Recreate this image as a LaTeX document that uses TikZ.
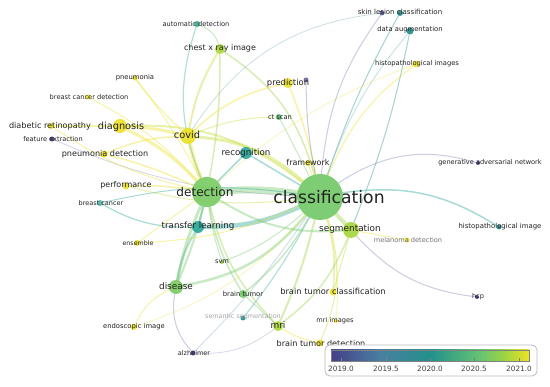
\documentclass[tikz,border=0pt]{standalone}
\usepackage{fontspec}
\setmainfont{DejaVu Sans}
\newcommand\lfs[1]{\fontsize{#1}{#1}\selectfont}
\pgfdeclarelayer{paper}
\pgfdeclarelayer{edges}
\pgfsetlayers{paper,edges,main}
% node colours
\definecolor{cYel}{HTML}{EDE127}
\definecolor{cYG}{HTML}{C6DC30}
\definecolor{cLG}{HTML}{9CD443}
\definecolor{cGrn}{HTML}{74C96A}
\definecolor{cTea}{HTML}{2AA69A}
\definecolor{cDTl}{HTML}{22908C}
\definecolor{cBlu}{HTML}{4A7FA0}
\definecolor{cPur}{HTML}{45408A}
\definecolor{cLPur}{HTML}{7F82B5}
\definecolor{txt}{HTML}{222222}
\definecolor{frame}{HTML}{BBBBBB}
% viridis-like legend shading (path box maps to 25bp..75bp)
\pgfdeclarehorizontalshading{vir}{100bp}{color(0bp)=(cPur); color(25bp)=(cPur);
  color(37.5bp)=(cBlu); color(50bp)=(cDTl); color(62.5bp)=(cGrn!80!cTea);
  color(68.75bp)=(cLG); color(75bp)=(cYel!90!yellow); color(100bp)=(cYel!90!yellow)}
\tikzset{
  dot/.style={circle, inner sep=0pt, draw=none, fill opacity=0.92},
  lab/.style={inner sep=0pt, text=txt, anchor=center},
  edge/.style={draw opacity=0.4, line cap=round},
}
\begin{document}
\begin{tikzpicture}[x=1pt, y=-1pt]
\useasboundingbox (0,0) rectangle (550,387);
\begin{pgfonlayer}{paper}
\fill[white] (0,0) rectangle (550,387);
\end{pgfonlayer}
% ---------- nodes (circles) ----------
\node[dot, minimum size=46pt, fill=cGrn] (classification) at (320,197) {};
\node[dot, minimum size=30pt, fill=cGrn!85!cLG] (detection) at (207,192) {};
\node[dot, minimum size=16pt, fill=cLG!70!cYG] (segmentation) at (351,230) {};
\node[dot, minimum size=16pt, fill=cYel] (covid) at (188,136) {};
\node[dot, minimum size=14pt, fill=cYel] (diagnosis) at (120,126) {};
\node[dot, minimum size=14pt, fill=cGrn!80!cLG] (disease) at (176,287) {};
\node[dot, minimum size=12pt, fill=cTea] (transfer) at (198,227) {};
\node[dot, minimum size=12pt, fill=cTea] (recognition) at (246,153) {};
\node[dot, minimum size=10pt, fill=cLG!60!cYG] (mri) at (278,326) {};
\node[dot, minimum size=10pt, fill=cLG!60!cYG] (chest) at (220,49) {};
\node[dot, minimum size=10pt, fill=cYel] (prediction) at (288,83) {};
\node[dot, minimum size=5pt, fill=cPur!80!white] (predpur) at (306,80) {};
\node[dot, minimum size=8pt, fill=cGrn] (braintumor) at (243,294) {};
\node[dot, minimum size=6pt, fill=cGrn!70!cTea] (ctscan) at (279,117) {};
\node[dot, minimum size=6pt, fill=cTea!80!cGrn] (autodet) at (197,24) {};
\node[dot, minimum size=5pt, fill=cPur!85!white] (skinpur) at (382,13) {};
\node[dot, minimum size=6pt, fill=cDTl] (skin) at (400,13) {};
\node[dot, minimum size=7pt, fill=cDTl] (dataaug) at (410,31) {};
\node[dot, minimum size=7pt, fill=cYel] (histoimgs) at (416,64) {};
\node[dot, minimum size=6pt, fill=cYel] (framework) at (308,163) {};
\node[dot, minimum size=4pt, fill=cPur] (gan) at (478,163) {};
\node[dot, minimum size=5pt, fill=cDTl] (histoimg) at (499,227) {};
\node[dot, minimum size=5pt, fill=cYel] (melanoma) at (407,240) {};
\node[dot, minimum size=4pt, fill=cPur] (hcp) at (477,297) {};
\node[dot, minimum size=7pt, fill=cYel] (btclass) at (333,292) {};
\node[dot, minimum size=4pt, fill=cYel] (mriimages) at (336,321) {};
\node[dot, minimum size=7pt, fill=cYel] (btdet) at (320,343) {};
\node[dot, minimum size=5pt, fill=cDTl] (semseg) at (243,318) {};
\node[dot, minimum size=6pt, fill=cYel] (endo) at (134,327) {};
\node[dot, minimum size=5pt, fill=cPur] (alz) at (193,353) {};
\node[dot, minimum size=4pt, fill=cLG] (svm) at (222,262) {};
\node[dot, minimum size=6pt, fill=cYel] (ensemble) at (137,243) {};
\node[dot, minimum size=6pt, fill=cTea!80!white] (breastcancer) at (100,203) {};
\node[dot, minimum size=7pt, fill=cYel!90!cYG] (performance) at (126,186) {};
\node[dot, minimum size=7pt, fill=cYel] (pneudet) at (104,154) {};
\node[dot, minimum size=5pt, fill=cPur] (featext) at (52,139) {};
\node[dot, minimum size=6pt, fill=cYel] (diabetic) at (51,126) {};
\node[dot, minimum size=5pt, fill=cYel] (bcdet) at (88,97) {};
\node[dot, minimum size=5pt, fill=cYel!90!cYG] (pneumonia) at (135,78) {};
% ---------- labels ----------
\node[lab, font=\lfs{17.2}] (t-classification) at (329,197) {classification};
\node[lab, font=\lfs{12.1}] (t-detection) at (205,192) {detection};
\node[lab, font=\lfs{8.9}] (t-segmentation) at (350,229) {segmentation};
\node[lab, font=\lfs{9.8}] (t-covid) at (187,135) {covid};
\node[lab, font=\lfs{9.8}] (t-diagnosis) at (121,127) {diagnosis};
\node[lab, font=\lfs{8.9}] (t-disease) at (176,286) {disease};
\node[lab, font=\lfs{8.7}] (t-transfer) at (198,226) {transfer learning};
\node[lab, font=\lfs{8.7}] (t-recognition) at (246,153) {recognition};
\node[lab, font=\lfs{9}] (t-mri) at (278,325) {mri};
\node[lab, font=\lfs{8}] (t-chest) at (220,48) {chest x ray image};
\node[lab, font=\lfs{8.4}] (t-prediction) at (288,83) {prediction};
\node[lab, font=\lfs{6.8}] (t-braintumor) at (243,294) {brain tumor};
\node[lab, font=\lfs{6.7}] (t-ctscan) at (280,117) {ct scan};
\node[lab, font=\lfs{6.6}] (t-autodet) at (196,24) {automatic detection};
\node[lab, font=\lfs{7}] (t-skin) at (400,12) {skin lesion classification};
\node[lab, font=\lfs{6.8}] (t-dataaug) at (410,30) {data augmentation};
\node[lab, font=\lfs{6.7}] (t-histoimgs) at (417,64) {histopathological images};
\node[lab, font=\lfs{8}] (t-framework) at (308,163) {framework};
\node[lab, font=\lfs{6.6}] (t-gan) at (490,163) {generative adversarial network};
\node[lab, font=\lfs{6.9}] (t-histoimg) at (500,227) {histopathological image};
\node[lab, font=\lfs{6.6}, text=black!55] (t-melanoma) at (408,240) {melanoma detection};
\node[lab, font=\lfs{6.6}] (t-hcp) at (478,297) {hcp};
\node[lab, font=\lfs{8.3}] (t-btclass) at (333,291) {brain tumor classification};
\node[lab, font=\lfs{6.6}] (t-mriimages) at (335,321) {mri images};
\node[lab, font=\lfs{8.1}] (t-btdet) at (321,343) {brain tumor detection};
\node[lab, font=\lfs{6.4}, text=black!35] (t-semseg) at (243,317) {semantic segmentation};
\node[lab, font=\lfs{6.8}] (t-endo) at (134,327) {endoscopic image};
\node[lab, font=\lfs{6.5}] (t-alz) at (194,353) {alzheimer};
\node[lab, font=\lfs{6.7}] (t-svm) at (222,262) {svm};
\node[lab, font=\lfs{6.3}] (t-ensemble) at (138,243) {ensemble};
\node[lab, font=\lfs{6.5}] (t-breastcancer) at (101,203) {breast cancer};
\node[lab, font=\lfs{8}] (t-performance) at (126,185) {performance};
\node[lab, font=\lfs{8.1}] (t-pneudet) at (105,154) {pneumonia detection};
\node[lab, font=\lfs{6.6}] (t-featext) at (53,139) {feature extraction};
\node[lab, font=\lfs{8.1}] (t-diabetic) at (50,126) {diabetic retinopathy};
\node[lab, font=\lfs{6.6}] (t-bcdet) at (89,97) {breast cancer detection};
\node[lab, font=\lfs{6.8}] (t-pneumonia) at (135,78) {pneumonia};
% ---------- edges ----------
\begin{pgfonlayer}{edges}
\draw[edge, cGrn, line width=7] (detection) to[bend left=6] (classification);
\draw[edge, cTea, line width=4.5] (transfer) to[bend right=12] (classification);
\draw[edge, cYel, line width=4] (covid) to[bend right=5] (detection);
\draw[edge, cYel, line width=3] (diagnosis) to[bend left=10] (detection);
\draw[edge, cYel, line width=3] (diagnosis) to[bend left=5] (covid);
\draw[edge, cYG, line width=3] (covid) to[bend left=18] (classification);
\draw[edge, cYG, line width=2] (diagnosis) to[bend left=20] (classification);
\draw[edge, cGrn, line width=3] (detection) to[bend right=6] (disease);
\draw[edge, cGrn, line width=2] (detection) to[bend left=4] (disease);
\draw[edge, cGrn, line width=2.5] (disease) to[bend right=20] (classification);
\draw[edge, cLG, line width=4] (classification) to (segmentation);
\draw[edge, cGrn, line width=2] (detection) to[bend right=18] (segmentation);
\draw[edge, cYG, line width=2] (chest) to[bend right=10] (covid);
\draw[edge, cLG, line width=1.5] (chest) to[bend left=20] (classification);
\draw[edge, cLG, line width=1.5] (chest) to[bend left=5] (detection);
\draw[edge, cTea!60!cGrn, line width=1.2] (autodet) to[bend right=20] (detection);
\draw[edge, cGrn, line width=1] (autodet) to[bend left=25] (chest);
\draw[edge, cLPur, line width=1] (skinpur) to[bend right=15] (classification);
\draw[edge, cLPur!50!cTea, line width=0.8, draw opacity=0.3] (skinpur) to[bend right=25] (covid);
\draw[edge, cDTl, line width=1] (skin) to[bend right=5] (classification);
\draw[edge, cDTl, line width=1] (dataaug) to[bend left=5] (segmentation);
\draw[edge, cDTl!60!white, line width=1] (dataaug) to[bend right=10] (classification);
\draw[edge, cYel, line width=1.2] (histoimgs) to[bend right=15] (classification);
\draw[edge, cYel, line width=0.8, draw opacity=0.3] (histoimgs) to[bend right=10] (detection);
\draw[edge, cYel, line width=1.5] (prediction) to[bend right=15] (covid);
\draw[edge, cYel, line width=1.5] (prediction) to[bend left=5] (classification);
\draw[edge, cPur!70!white, line width=1] (predpur) to[bend right=5] (classification);
\draw[edge, cGrn, line width=1] (ctscan) to (classification);
\draw[edge, cYG, line width=1] (ctscan) to[bend right=10] (covid);
\draw[edge, cLPur, line width=1] (classification) to[bend left=25] (gan);
\draw[edge, cTea, line width=1.5] (classification) to[bend left=20] (histoimg);
\draw[edge, cLPur, line width=1] (segmentation) to[bend right=20] (hcp);
\draw[edge, cYel, line width=1] (melanoma) to (segmentation);
\draw[edge, cYG, line width=1.5] (btclass) to[bend right=10] (classification);
\draw[edge, cYG, line width=1] (btclass) to (segmentation);
\draw[edge, cLG, line width=2] (mri) to[bend right=5] (classification);
\draw[edge, cLG, line width=1.5] (mri) to[bend right=15] (segmentation);
\draw[edge, cLG, line width=1.5] (mri) to[bend left=15] (detection);
\draw[edge, cYel, line width=1.2] (btdet) to[bend left=10] (mri);
\draw[edge, cYG, line width=1] (btdet) to[bend right=20] (classification);
\draw[edge, cYel, line width=0.8, draw opacity=0.3] (mriimages) to[bend right=10] (classification);
\draw[edge, cLPur, line width=1] (alz) to[bend left=25] (disease);
\draw[edge, cLPur, line width=0.8, draw opacity=0.3] (alz) to[bend right=20] (mri);
\draw[edge, cBlu!60!white, line width=1] (alz) to[bend right=5] (classification);
\draw[edge, cTea, line width=1] (semseg) to[bend right=5] (classification);
\draw[edge, cYel, line width=1] (endo) to[bend left=20] (disease);
\draw[edge, cYel, line width=0.8, draw opacity=0.3] (endo) to[bend right=15] (classification);
\draw[edge, cGrn, line width=1.5] (braintumor) to[bend right=10] (classification);
\draw[edge, cGrn, line width=1.5] (braintumor) to[bend left=10] (detection);
\draw[edge, cGrn, line width=1] (braintumor) to (mri);
\draw[edge, cGrn, line width=1] (svm) to[bend left=5] (detection);
\draw[edge, cGrn, line width=1] (svm) to[bend right=10] (classification);
\draw[edge, cLPur, line width=0.8, draw opacity=0.35] (featext) to[bend right=10] (classification);
\draw[edge, cTea, line width=1.2] (breastcancer) to[bend right=15] (transfer);
\draw[edge, cTea, line width=1] (breastcancer) to[bend left=10] (classification);
\draw[edge, cYel, line width=1.5] (performance) to[bend left=5] (detection);
\draw[edge, cYG, line width=1] (performance) to[bend right=10] (classification);
\draw[edge, cYel, line width=1.5] (pneudet) to[bend left=5] (detection);
\draw[edge, cYel, line width=1.5] (pneudet) to[bend left=10] (covid);
\draw[edge, cYel, line width=1.2] (pneumonia) to[bend right=5] (covid);
\draw[edge, cYel, line width=1] (pneumonia) to[bend left=5] (detection);
\draw[edge, cYel, line width=1] (bcdet) to[bend left=10] (detection);
\draw[edge, cYel, line width=1.5] (diabetic) to (diagnosis);
\draw[edge, cYel, line width=1] (diabetic) to[bend right=10] (detection);
\draw[edge, cYel, line width=1] (ensemble) to[bend right=10] (classification);
\draw[edge, cYel, line width=1] (ensemble) to (detection);
\draw[edge, cYel, line width=1.5] (framework) to (classification);
\draw[edge, cTea, line width=1.5] (recognition) to (classification);
\draw[edge, cTea, line width=1.5] (recognition) to (detection);
\draw[edge, cTea!50!cGrn, line width=2] (disease) to[bend left=10] (transfer);
\draw[edge, cTea!50!cGrn, line width=2] (transfer) to (detection);
\end{pgfonlayer}
% ---------- legend ----------
\node[draw=frame, line width=0.8, rounded corners=5pt, fill=white, minimum width=212pt, minimum height=31pt, inner sep=0pt] (legend) at (431,360.5) {};
\shade[shading=vir, draw=black!50, line width=0.5] (331,350) rectangle (529,361);
\foreach \xx/\yy in {341/2019.0, 386/2019.5, 430/2020.0, 474/2020.5, 519/2021.0}{
  \draw[black!50, line width=0.5] (\xx,361) -- (\xx,358);
  \node[lab, font=\lfs{7.3}, text=black!75] (y\xx) at (\xx,369) {\yy};
}
\end{tikzpicture}
\end{document}
